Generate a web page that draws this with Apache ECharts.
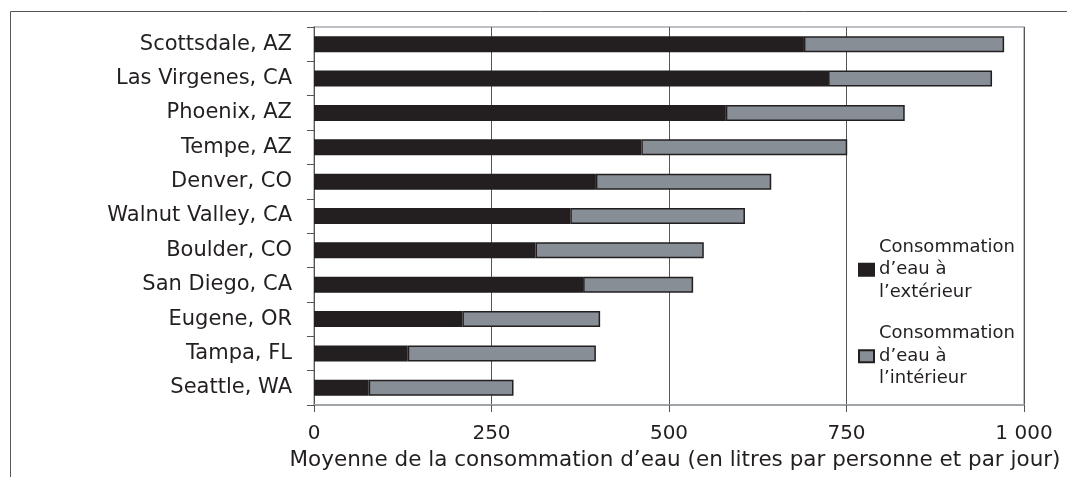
<!DOCTYPE html>
<html>
<head>
<meta charset="utf-8">
<script src="https://cdn.jsdelivr.net/npm/echarts@6/dist/echarts.min.js"></script>
<style>
html,body{margin:0;padding:0;background:#fff;}
#chart{width:1067px;height:477px;}
</style>
</head>
<body>
<div id="chart"></div>
<script>
const categories = ["Scottsdale, AZ","Las Virgenes, CA","Phoenix, AZ","Tempe, AZ","Denver, CO","Walnut Valley, CA","Boulder, CO","San Diego, CA","Eugene, OR","Tampa, FL","Seattle, WA"];
const outdoor = [690, 724, 580, 461, 397, 361, 312, 379, 209, 132, 77];
const indoor  = [282, 231, 252, 290, 247, 246, 237, 155, 194, 265, 204];
const xTicks = [0, 250, 500, 750, 1000];
const seriesNames = ["Consommation\nd\u2019eau à\nl\u2019extérieur", "Consommation\nd\u2019eau à\nl\u2019intérieur"];
const xAxisName = "Moyenne de la consommation d\u2019eau (en litres par personne et par jour)";

const chart = echarts.init(document.getElementById('chart'), null, {renderer:'canvas'});
const font = 'DejaVu Sans, Verdana, sans-serif';
chart.setOption({
  backgroundColor: '#fff',
  animation: false,
  textStyle: {fontFamily: font},
  graphic: [{
    type: 'rect', left: 8, top: 9, silent: true,
    shape: {x: 0, y: 0, width: 1200, height: 600},
    style: {fill: 'none', stroke: '#555', lineWidth: 1}
  }],
  grid: {left: 314, right: 43, top: 27, bottom: 72, show: true, borderColor: '#a6abb0', borderWidth: 1.5, containLabel: false},
  legend: {
    orient: 'vertical', left: 853, top: 231,
    itemWidth: 15, itemHeight: 12, itemGap: 19,
    icon: 'rect',
    textStyle: {fontFamily: font, fontSize: 18, color: '#231f20', lineHeight: 22.5},
    data: seriesNames
  },
  xAxis: {
    type: 'value', min: xTicks[0], max: xTicks[xTicks.length-1], interval: 250,
    axisLine: {show: true, lineStyle: {color: '#a0a5aa', width: 2}},
    axisTick: {show: true, length: 7, lineStyle: {color: '#555'}},
    splitLine: {show: true, lineStyle: {color: '#555', width: 1}},
    axisLabel: {fontFamily: font, fontSize: 20, color: '#231f20', margin: 19,
      formatter: v => v >= 1000 ? String(v).replace(/(\d)(?=(\d{3})+$)/g, '$1 ') : String(v)},
    name: xAxisName, nameLocation: 'middle', nameGap: 44,
    nameTextStyle: {fontFamily: font, fontSize: 21.5, color: '#231f20', padding: [0,0,0,12]}
  },
  yAxis: {
    type: 'category', data: categories, inverse: true,
    axisLine: {show: true, lineStyle: {color: '#555', width: 1}},
    axisTick: {show: true, length: 7, lineStyle: {color: '#555'}},
    axisLabel: {fontFamily: font, fontSize: 21, color: '#231f20', margin: 22}
  },
  series: [
    {name: seriesNames[0], type: 'bar', stack: 'w', data: outdoor, barWidth: 16,
     itemStyle: {color: '#231f20', borderColor: '#231f20', borderWidth: 1.5}},
    {name: seriesNames[1], type: 'bar', stack: 'w', data: indoor, barWidth: 16,
     itemStyle: {color: '#878e95', borderColor: '#231f20', borderWidth: 1.5}}
  ]
});
</script>
</body>
</html>
